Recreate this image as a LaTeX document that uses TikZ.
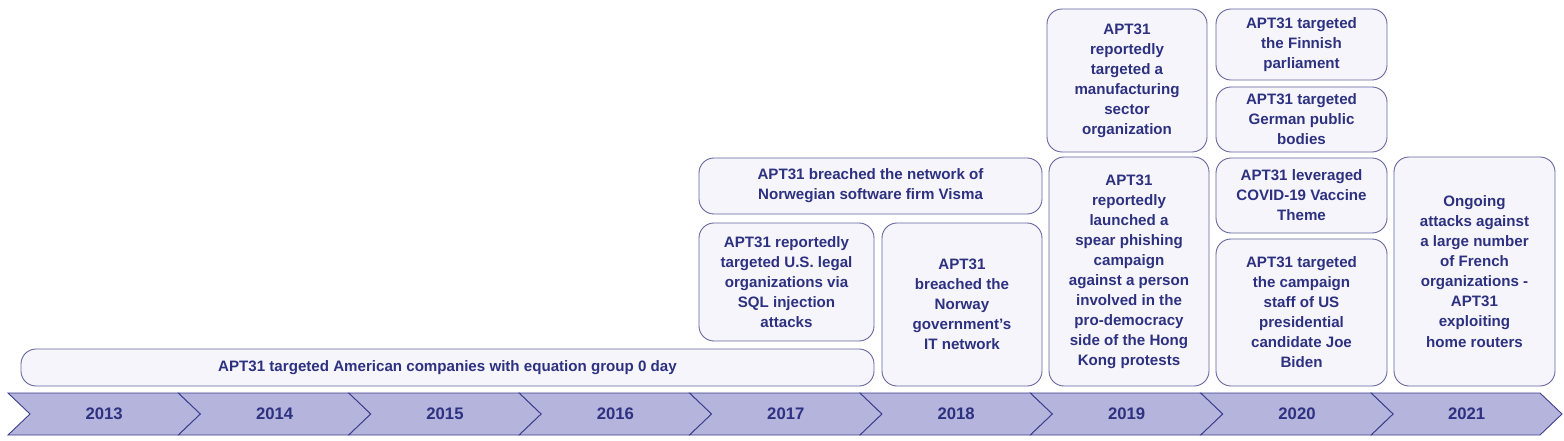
\documentclass[tikz,border=0pt]{standalone}
\usepackage{fontspec}
\setmainfont{Liberation Sans}
\definecolor{navy}{HTML}{2E3180}
\definecolor{chev}{HTML}{B4B4DC}
\definecolor{chevline}{HTML}{3C3C8C}
\definecolor{boxfill}{HTML}{F5F5FB}
\definecolor{boxline}{HTML}{6464A0}
\begin{document}
\begin{tikzpicture}[
  evbox/.style={draw=boxline,fill=boxfill,line width=0.5pt,rounded corners=0.3cm,
    align=center,text=navy,font=\fontsize{8.6}{11.4}\selectfont\bfseries,inner sep=0pt},
  yr/.style={text=navy,font=\fontsize{9.5}{11}\selectfont\bfseries}]
\useasboundingbox (0,0) rectangle (31.28,8.8);
\foreach \i/\y in {0/2013,1/2014,2/2015,3/2016,4/2017,5/2018,6/2019,7/2020,8/2021}{
  \pgfmathsetmacro{\L}{0.16+3.408*\i}
  \pgfmathsetmacro{\R}{\i<8 ? 0.16+3.408*(\i+1) : 30.8}
  \draw[chevline,fill=chev,line width=0.5pt] (\L,0.94)--(\R,0.94)--(\R+0.44,0.52)--(\R,0.1)--(\L,0.1)--(\L+0.44,0.52)--cycle;
  \node[yr] (y\y) at ({(\L+\R)/2+0.22},0.52) {\y};
}
\node[evbox,minimum width=17.06cm,minimum height=0.74cm] (amer) at (8.95,1.45) {APT31 targeted American companies with equation group 0 day};
\node[evbox,minimum width=3.5cm,minimum height=2.36cm] (legal) at (15.73,3.16) {APT31 reportedly\\targeted U.S. legal\\organizations via\\SQL injection\\attacks};
\node[evbox,minimum width=6.86cm,minimum height=1.12cm] (visma) at (17.41,5.08) {APT31 breached the network of\\Norwegian software firm Visma};
\node[evbox,minimum width=3.2cm,minimum height=3.26cm] (norway) at (19.24,2.71) {APT31\\breached the\\Norway\\government’s\\IT network};
\node[evbox,minimum width=3.2cm,minimum height=2.86cm] (manu) at (22.54,7.19) {APT31\\reportedly\\targeted a\\manufacturing\\sector\\organization};
\node[evbox,minimum width=3.2cm,minimum height=4.58cm] (spear) at (22.58,3.37) {APT31\\reportedly\\launched a\\spear phishing\\campaign\\against a person\\involved in the\\pro-democracy\\side of the Hong\\Kong protests};
\node[evbox,minimum width=3.42cm,minimum height=1.42cm] (finn) at (26.03,7.91) {APT31 targeted\\the Finnish\\parliament};
\node[evbox,minimum width=3.42cm,minimum height=1.3cm] (germ) at (26.03,6.41) {APT31 targeted\\German public\\bodies};
\node[evbox,minimum width=3.42cm,minimum height=1.5cm] (covid) at (26.03,4.89) {APT31 leveraged\\COVID-19 Vaccine\\Theme};
\node[evbox,minimum width=3.42cm,minimum height=2.94cm] (biden) at (26.03,2.55) {APT31 targeted\\the campaign\\staff of US\\presidential\\candidate Joe\\Biden};
\node[evbox,minimum width=3.22cm,minimum height=4.58cm] (french) at (29.49,3.37) {Ongoing\\attacks against\\a large number\\of French\\organizations -\\APT31\\exploiting\\home routers};
\end{tikzpicture}
\end{document}
